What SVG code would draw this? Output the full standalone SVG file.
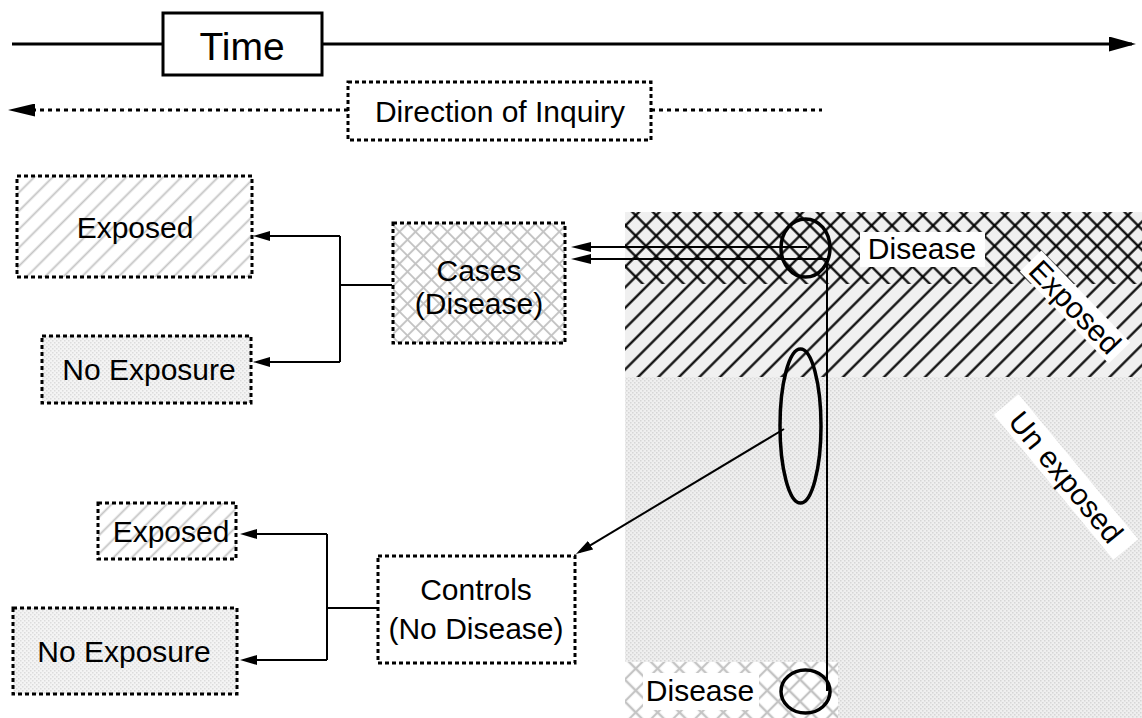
<svg xmlns="http://www.w3.org/2000/svg" width="1142" height="718" viewBox="0 0 1142 718">
<style>
text{font-family:"Liberation Sans",Arial,sans-serif;font-size:30px;fill:#000;text-anchor:middle}
.box{stroke:#000;stroke-width:3;stroke-dasharray:4 3}
.solid{fill:#fff;stroke:#000;stroke-width:3}
.ln{fill:none;stroke:#000;stroke-width:2}
.thick{fill:none;stroke:#000;stroke-width:3}
.dot{fill:none;stroke:#000;stroke-width:3;stroke-dasharray:4 4}
.ring{fill:none;stroke:#000;stroke-width:3.5}
.lbl{fill:#fff}
</style>
<defs>
<pattern id="hatchG" width="13" height="13" patternUnits="userSpaceOnUse" patternTransform="rotate(45)"><rect width="13" height="13" fill="#fff"/><line x1="6.5" y1="0" x2="6.5" y2="13" stroke="#c4c4c4" stroke-width="1.8"/></pattern>
<pattern id="crossG" width="11.3" height="11.3" patternUnits="userSpaceOnUse" patternTransform="rotate(45)"><rect width="11.3" height="11.3" fill="#fff"/><path d="M5.65,0V11.3M0,5.65H11.3" stroke="#c4c4c4" stroke-width="2"/></pattern>
<pattern id="crossG2" width="15.5" height="15.5" patternUnits="userSpaceOnUse" patternTransform="rotate(45)"><rect width="15.5" height="15.5" fill="#fff"/><path d="M7.75,0V15.5M0,7.75H15.5" stroke="#c4c4c4" stroke-width="2.2"/></pattern>
<pattern id="diagB" width="14.5" height="14.5" patternUnits="userSpaceOnUse" patternTransform="rotate(45)"><line x1="7.25" y1="0" x2="7.25" y2="14.5" stroke="#000" stroke-width="2.2"/></pattern>
<pattern id="backB" width="14.5" height="14.5" patternUnits="userSpaceOnUse" patternTransform="rotate(-45)"><line x1="7.25" y1="0" x2="7.25" y2="14.5" stroke="#000" stroke-width="2.2"/></pattern>
<pattern id="dots" width="4" height="4" patternUnits="userSpaceOnUse"><rect width="4" height="4" fill="#efefef"/><rect width="1.5" height="1.5" fill="#d6d6d6"/><rect x="2" y="2" width="1.5" height="1.5" fill="#d6d6d6"/></pattern>
<pattern id="dotsL" width="4" height="4" patternUnits="userSpaceOnUse"><rect width="4" height="4" fill="#f4f4f4"/><rect width="1.5" height="1.5" fill="#dcdcdc"/><rect x="2" y="2" width="1.5" height="1.5" fill="#dcdcdc"/></pattern>
<marker id="arrBig" markerUnits="userSpaceOnUse" viewBox="0 0 27 15" markerWidth="27" markerHeight="15" refX="23" refY="7.5" orient="auto"><path d="M0,0L27,7.5L0,15z" fill="#000"/></marker>
<marker id="arrDir" markerUnits="userSpaceOnUse" viewBox="0 0 27 13" markerWidth="27" markerHeight="13" refX="23" refY="6.5" orient="auto"><path d="M0,0L27,6.5L0,13z" fill="#000"/></marker>
<marker id="arr" markerUnits="userSpaceOnUse" viewBox="0 0 17 10" markerWidth="17" markerHeight="10" refX="13" refY="5" orient="auto"><path d="M0,0L17,5L0,10z" fill="#000"/></marker>
<marker id="arrL" markerUnits="userSpaceOnUse" viewBox="0 0 20 10" markerWidth="20" markerHeight="10" refX="16" refY="5" orient="auto"><path d="M0,0L20,5L0,10z" fill="#000"/></marker>
</defs>

<g id="population">
<rect x="625" y="212" width="517" height="165" fill="#f0f0f0"/>
<rect x="625" y="212" width="517" height="165" fill="url(#diagB)"/>
<rect x="625" y="212" width="517" height="72" fill="url(#backB)"/>
<rect x="625" y="377" width="517" height="341" fill="url(#dots)"/>
<rect x="625" y="662" width="213" height="56" fill="url(#crossG2)"/>
<g id="label-disease-top"><rect class="lbl" x="860" y="232" width="125" height="35"/><text x="922" y="259">Disease</text></g>
<g id="label-disease-bottom"><rect class="lbl" x="643" y="673" width="116" height="37"/><text x="700" y="701">Disease</text></g>
<g id="label-exposed" transform="translate(1075,307) rotate(46)"><rect class="lbl" x="-64" y="-15" width="128" height="30"/><text x="0" y="10.5">Exposed</text></g>
<g id="label-unexposed" transform="translate(1066,477) rotate(50.5)"><rect class="lbl" x="-94" y="-16" width="188" height="32"/><text x="0" y="10.5">Un exposed</text></g>
</g>

<g id="time"><rect class="solid" x="163" y="13" width="159" height="62"/><text x="242" y="60" style="font-size:39px">Time</text></g>
<g id="direction"><rect class="box" fill="#fff" x="348" y="82" width="303" height="58"/><text x="500" y="122">Direction of Inquiry</text></g>
<g id="exposed-cases"><rect class="box" fill="url(#hatchG)" x="17" y="176" width="235" height="101"/><text x="135" y="238">Exposed</text></g>
<g id="noexposure-cases"><rect class="box" fill="url(#dotsL)" x="42" y="336" width="209" height="67"/><text x="149" y="380">No Exposure</text></g>
<g id="cases"><rect class="box" fill="url(#crossG)" x="393" y="223" width="172" height="120"/><text x="479" y="281">Cases</text><text x="479" y="314">(Disease)</text></g>
<g id="exposed-controls"><rect class="box" fill="url(#hatchG)" x="98" y="503" width="138" height="56"/><text x="171" y="542">Exposed</text></g>
<g id="noexposure-controls"><rect class="box" fill="url(#dotsL)" x="13" y="608" width="224" height="86"/><text x="124" y="662">No Exposure</text></g>
<g id="controls"><rect class="box" fill="#fff" x="378" y="556" width="197" height="107"/><text x="476" y="600">Controls</text><text x="476" y="639">(No Disease)</text></g>

<g id="connectors">
<path class="thick" d="M12,44H163"/>
<path class="thick" d="M322,44H1132" marker-end="url(#arrBig)"/>
<path class="dot" d="M348,110H12" marker-end="url(#arrDir)"/>
<path class="dot" d="M651,110H822"/>
<path class="ln" d="M392,285H340M340,236V362"/>
<path class="ln" d="M340,236H257" marker-end="url(#arr)"/>
<path class="ln" d="M340,362H257" marker-end="url(#arr)"/>
<path class="ln" d="M807,247H575" marker-end="url(#arrL)"/>
<path class="ln" d="M827,259H575" marker-end="url(#arrL)"/>
<path class="ln" d="M827,259V691"/>
<path class="ln" d="M784,429L579.4,551.9" marker-end="url(#arr)"/>
<path class="ln" d="M377,608H327M327,534V660"/>
<path class="ln" d="M327,534H244" marker-end="url(#arr)"/>
<path class="ln" d="M327,660H244" marker-end="url(#arr)"/>
</g>

<g id="selections">
<ellipse class="ring" cx="805.5" cy="248" rx="24.5" ry="29"/>
<ellipse class="ring" cx="800.5" cy="426" rx="20.5" ry="77"/>
<ellipse class="ring" cx="805.5" cy="691.5" rx="24.5" ry="21.5"/>
</g>
</svg>
